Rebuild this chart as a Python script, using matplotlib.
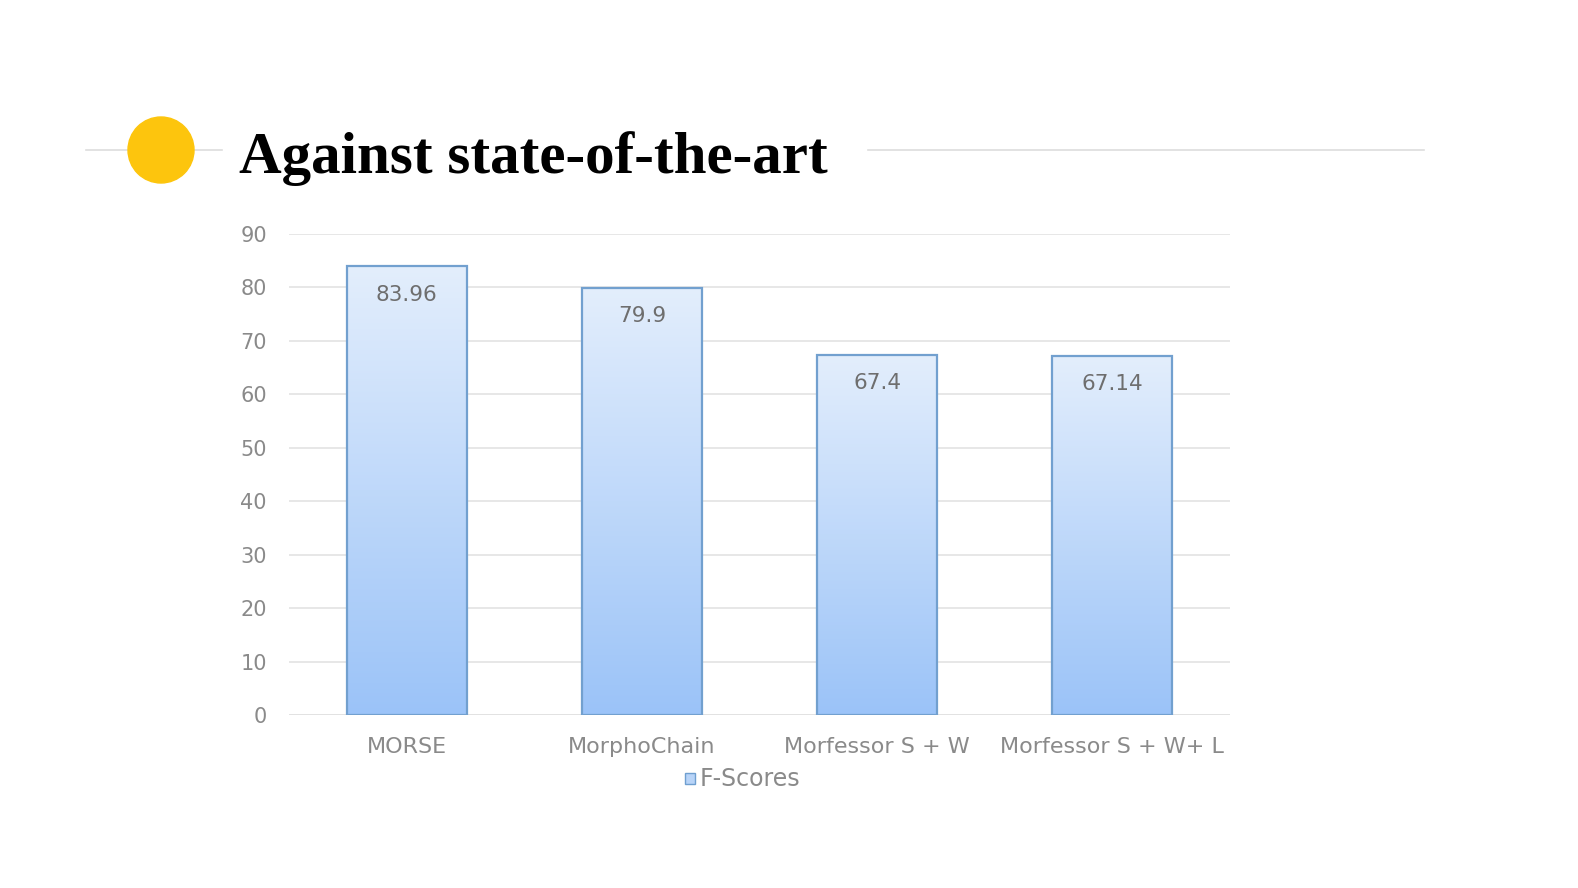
import numpy as np
import matplotlib.pyplot as plt
from matplotlib.patches import Circle, Rectangle

# Data
methods = ['MORSE', 'MorphoChain', 'Morfessor S + W', 'Morfessor S + W+ L']
f_scores = [83.96, 79.9, 67.4, 67.14]
score_labels = ['83.96', '79.9', '67.4', '67.14']
yticks = [0, 10, 20, 30, 40, 50, 60, 70, 80, 90]

plt.rcParams['font.family'] = ['DejaVu Sans']

fig = plt.figure(figsize=(15.78, 8.88), dpi=100)
fig.patch.set_facecolor('white')

# Slide header: dot, rules and title
ax_dot = fig.add_axes([0, 0, 1, 1])
ax_dot.set_xlim(0, 1578)
ax_dot.set_ylim(888, 0)
ax_dot.axis('off')
ax_dot.plot([86, 222], [150, 150], color='#dddddd', lw=1.2, zorder=1)
ax_dot.plot([868, 1424], [150, 150], color='#dddddd', lw=1.2, zorder=1)
ax_dot.add_patch(Circle((161, 150), 33, color='#fdc50d', zorder=2))
fig.text(239 / 1578, 1 - 159 / 888, 'Against state-of-the-art',
         family=['Liberation Serif', 'DejaVu Serif'], fontweight='bold',
         fontsize=42.5, va='center', ha='left', color='black')

# Chart
ax = fig.add_axes([289 / 1578, 1 - 715 / 888, (1230 - 289) / 1578, (715 - 234) / 888])
x = np.arange(len(methods))
bars = ax.bar(x, f_scores, width=0.51, color='none', edgecolor='#72a0cf',
              linewidth=1.6, zorder=3)

grad = np.linspace(0, 1, 256).reshape(-1, 1)
top_c = np.array([0xe3, 0xee, 0xfc]) / 255
bot_c = np.array([0x9b, 0xc3, 0xf8]) / 255
for b in bars:
    x0, w, h = b.get_x(), b.get_width(), b.get_height()
    img = top_c * (1 - grad[..., None]) + bot_c * grad[..., None]
    im = ax.imshow(img, extent=[x0, x0 + w, 0, h], aspect='auto',
                   origin='upper', zorder=2)
    clip = Rectangle((x0, 0), w, h, transform=ax.transData)
    im.set_clip_path(clip)

for xi, v, lab in zip(x, f_scores, score_labels):
    ax.text(xi, v - 5.3, lab, ha='center', va='center', fontsize=15.5,
            color='#6e6e6e', zorder=4)

ax.set_xlim(-0.5, len(methods) - 0.5)
ax.set_ylim(0, 90)
ax.set_yticks(yticks)
ax.set_xticks(x)
ax.set_xticklabels(methods)
ax.tick_params(axis='both', length=0, labelcolor='#8a8a8a')
ax.tick_params(axis='y', pad=16, labelsize=15)
ax.tick_params(axis='x', pad=16, labelsize=16)
ax.grid(axis='y', color='#e3e3e3', lw=1.2, zorder=0)
for s in ax.spines.values():
    s.set_visible(False)
ax.axhline(0, color='#d9d9d9', lw=1.2, zorder=1)

# Legend
fig.add_artist(Rectangle((685 / 1578, 1 - 784 / 888), 10 / 1578, 11 / 888,
                         facecolor='#b8d4f8', edgecolor='#6f9fd0', lw=1,
                         transform=fig.transFigure))
fig.text(700 / 1578, 1 - 779 / 888, 'F-Scores', fontsize=17, color='#8a8a8a',
         va='center', ha='left')

fig.savefig('out.png', dpi=100, facecolor='white')
